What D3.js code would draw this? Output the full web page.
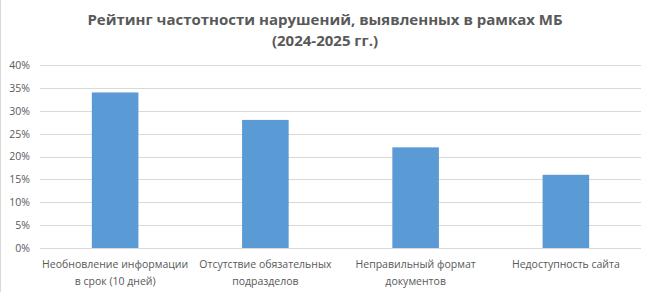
<!DOCTYPE html>
<html lang="ru">
<head>
<meta charset="utf-8">
<title>Рейтинг частотности нарушений</title>
<script src="https://d3js.org/d3.v7.min.js"></script>
<style>
  body { margin: 0; background: #fff; }
  svg text { font-family: "Open Sans", "DejaVu Sans", sans-serif; fill: #595959; }
  .grid line { stroke: #d9d9d9; }
  .grid .domain { display: none; }
</style>
</head>
<body>
<div id="vis"></div>
<script>
// data
var categories = [
  ["Необновление информации", "в срок (10 дней)"],
  ["Отсутствие обязательных", "подразделов"],
  ["Неправильный формат", "документов"],
  ["Недоступность сайта"]
];
var values = [0.34, 0.28, 0.22, 0.16];
var yTicks = [0, 0.05, 0.10, 0.15, 0.20, 0.25, 0.30, 0.35, 0.40];
var titleLines = ["Рейтинг частотности нарушений, выявленных в рамках МБ", "(2024-2025 гг.)"];

var width = 651, height = 292;
var margin = {left: 40, right: 10, top: 65, bottom: 44};
var plotW = width - margin.left - margin.right;
var plotH = height - margin.top - margin.bottom;

var svg = d3.select("#vis").append("svg")
  .attr("width", width)
  .attr("height", height);

// chart border (only left edge is visible in the crop)
svg.append("line")
  .attr("x1", 0.5).attr("x2", 0.5)
  .attr("y1", 0).attr("y2", height)
  .attr("stroke", "#d9d9d9");

svg.selectAll(".title")
  .data(titleLines)
  .enter().append("text")
  .attr("class", "title")
  .attr("x", 325)
  .attr("y", function(d, i) { return 25 + i * 21; })
  .attr("text-anchor", "middle")
  .style("font-size", "15px")
  .style("font-weight", "bold")
  .text(function(d) { return d; });

var x = d3.scaleBand()
  .domain(d3.range(categories.length))
  .range([0, plotW])
  .paddingInner(0.69)
  .paddingOuter(0.345);

var y = d3.scaleLinear()
  .domain([0, 0.4])
  .range([plotH, 0]);

var g = svg.append("g")
  .attr("transform", "translate(" + margin.left + "," + margin.top + ")");

g.append("g")
  .attr("class", "grid")
  .call(d3.axisLeft(y).tickValues(yTicks).tickSize(-plotW).tickFormat(""))
  .selectAll(".tick line").attr("shape-rendering", "crispEdges");

g.append("g")
  .call(d3.axisLeft(y).tickValues(yTicks).tickSize(0).tickPadding(10).tickFormat(d3.format(".0%")))
  .call(function(a) { a.select(".domain").remove(); })
  .selectAll("text")
  .style("font-size", "10.5px");

g.selectAll(".bar")
  .data(values)
  .enter().append("rect")
  .attr("class", "bar")
  .attr("x", function(d, i) { return x(i); })
  .attr("y", function(d) { return y(d); })
  .attr("width", x.bandwidth())
  .attr("height", function(d) { return plotH - y(d); })
  .attr("fill", "#5b9bd5");

var labels = g.selectAll(".cat")
  .data(categories)
  .enter().append("text")
  .attr("class", "cat")
  .attr("text-anchor", "middle")
  .attr("transform", function(d, i) { return "translate(" + (x(i) + x.bandwidth() / 2) + "," + (plotH + 20) + ")"; })
  .style("font-size", "10.5px");

labels.selectAll("tspan")
  .data(function(d) { return d; })
  .enter().append("tspan")
  .attr("x", 0)
  .attr("dy", function(d, i) { return i ? 17 : 0; })
  .text(function(d) { return d; });
</script>
</body>
</html>
